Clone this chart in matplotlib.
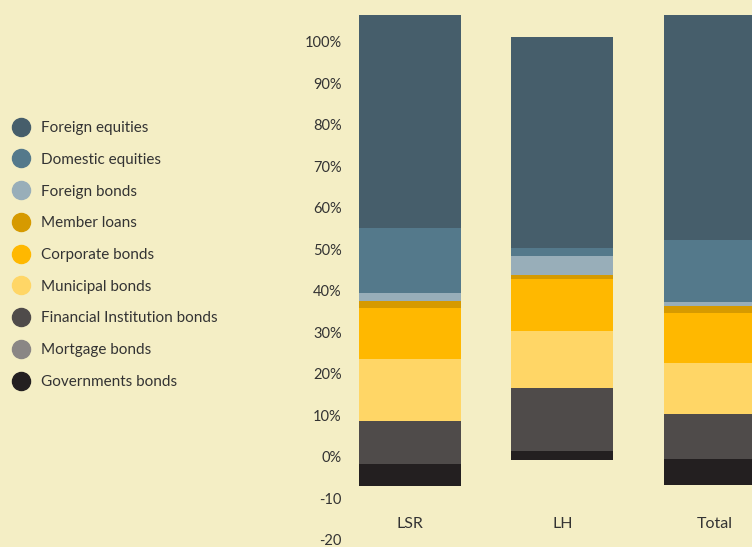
import numpy as np
import matplotlib
matplotlib.use("Agg")
import matplotlib.pyplot as plt
from matplotlib.lines import Line2D

# datos
categorias = ["LSR", "LH", "Total"]
inicio = [-7.0, -0.8, -6.8]  # donde empieza cada barra

series = ["Foreign equities", "Domestic equities", "Foreign bonds", "Member loans",
          "Corporate bonds", "Municipal bonds", "Financial Institution bonds",
          "Mortgage bonds", "Governments bonds"]

foreign_equities = [51.5, 50.9, 54.0]
domestic_equities = [15.5, 1.9, 15.0]
foreign_bonds = [2.0, 4.6, 1.0]
member_loans = [1.7, 1.0, 1.6]
corporate_bonds = [12.2, 12.5, 12.2]
municipal_bonds = [15.0, 13.7, 12.2]
fi_bonds = [10.4, 15.3, 10.8]
mortgage_bonds = [0.0, 0.0, 0.0]
government_bonds = [5.3, 2.2, 6.4]

colores = ["#465E6B", "#54798B", "#98AEB9", "#D69A00", "#FFB800",
           "#FFD666", "#4F4B4A", "#8A8685", "#231F20"]

yticks = [100, 90, 80, 70, 60, 50, 40, 30, 20, 10, 0, -10, -20]
yticklabels = ["100%", "90%", "80%", "70%", "60%", "50%", "40%", "30%",
               "20%", "10%", "0%", "-10", "-20"]

fondo = "#F4EEC5"
plt.rcParams["font.family"] = ["Lato", "DejaVu Sans"]

fig = plt.figure(figsize=(7.52, 5.47), dpi=100, facecolor=fondo)
ax = fig.add_axes([350 / 752, 0, 402 / 752, 1])
ax.set_facecolor(fondo)

valores = [foreign_equities, domestic_equities, foreign_bonds, member_loans,
           corporate_bonds, municipal_bonds, fi_bonds, mortgage_bonds, government_bonds]

x = np.arange(len(categorias))
base = np.array(inicio, dtype=float)
# apilamos desde abajo (governments bonds) hacia arriba
for nombre, vals, col in reversed(list(zip(series, valores, colores))):
    vals = np.array(vals)
    ax.bar(x, vals, bottom=base, width=0.669, color=col, linewidth=0)
    base = base + vals

ax.set_xlim(-0.393, 2.243)
ax.set_ylim(-21.69, 110.12)
ax.set_yticks(yticks)
ax.set_yticklabels(yticklabels, fontsize=10.5, color="#333333")
ax.set_xticks([])
ax.tick_params(axis="y", length=0, pad=6)
for s in ax.spines.values():
    s.set_visible(False)

for xi, cat in zip(x, categorias):
    ax.text(xi, -16.1, cat, ha="center", va="center", fontsize=11.5, color="#333333")

handles = [Line2D([], [], marker="o", linestyle="", markersize=13,
                  markerfacecolor=c, markeredgecolor=c) for c in colores]
fig.legend(handles, series, loc="upper left", bbox_to_anchor=(0.0, 1 - 115 / 547),
           frameon=False, fontsize=11, labelspacing=1.16, handletextpad=0.3,
           borderaxespad=0, labelcolor="#333333")

fig.savefig("out.png", dpi=100, facecolor=fondo)
